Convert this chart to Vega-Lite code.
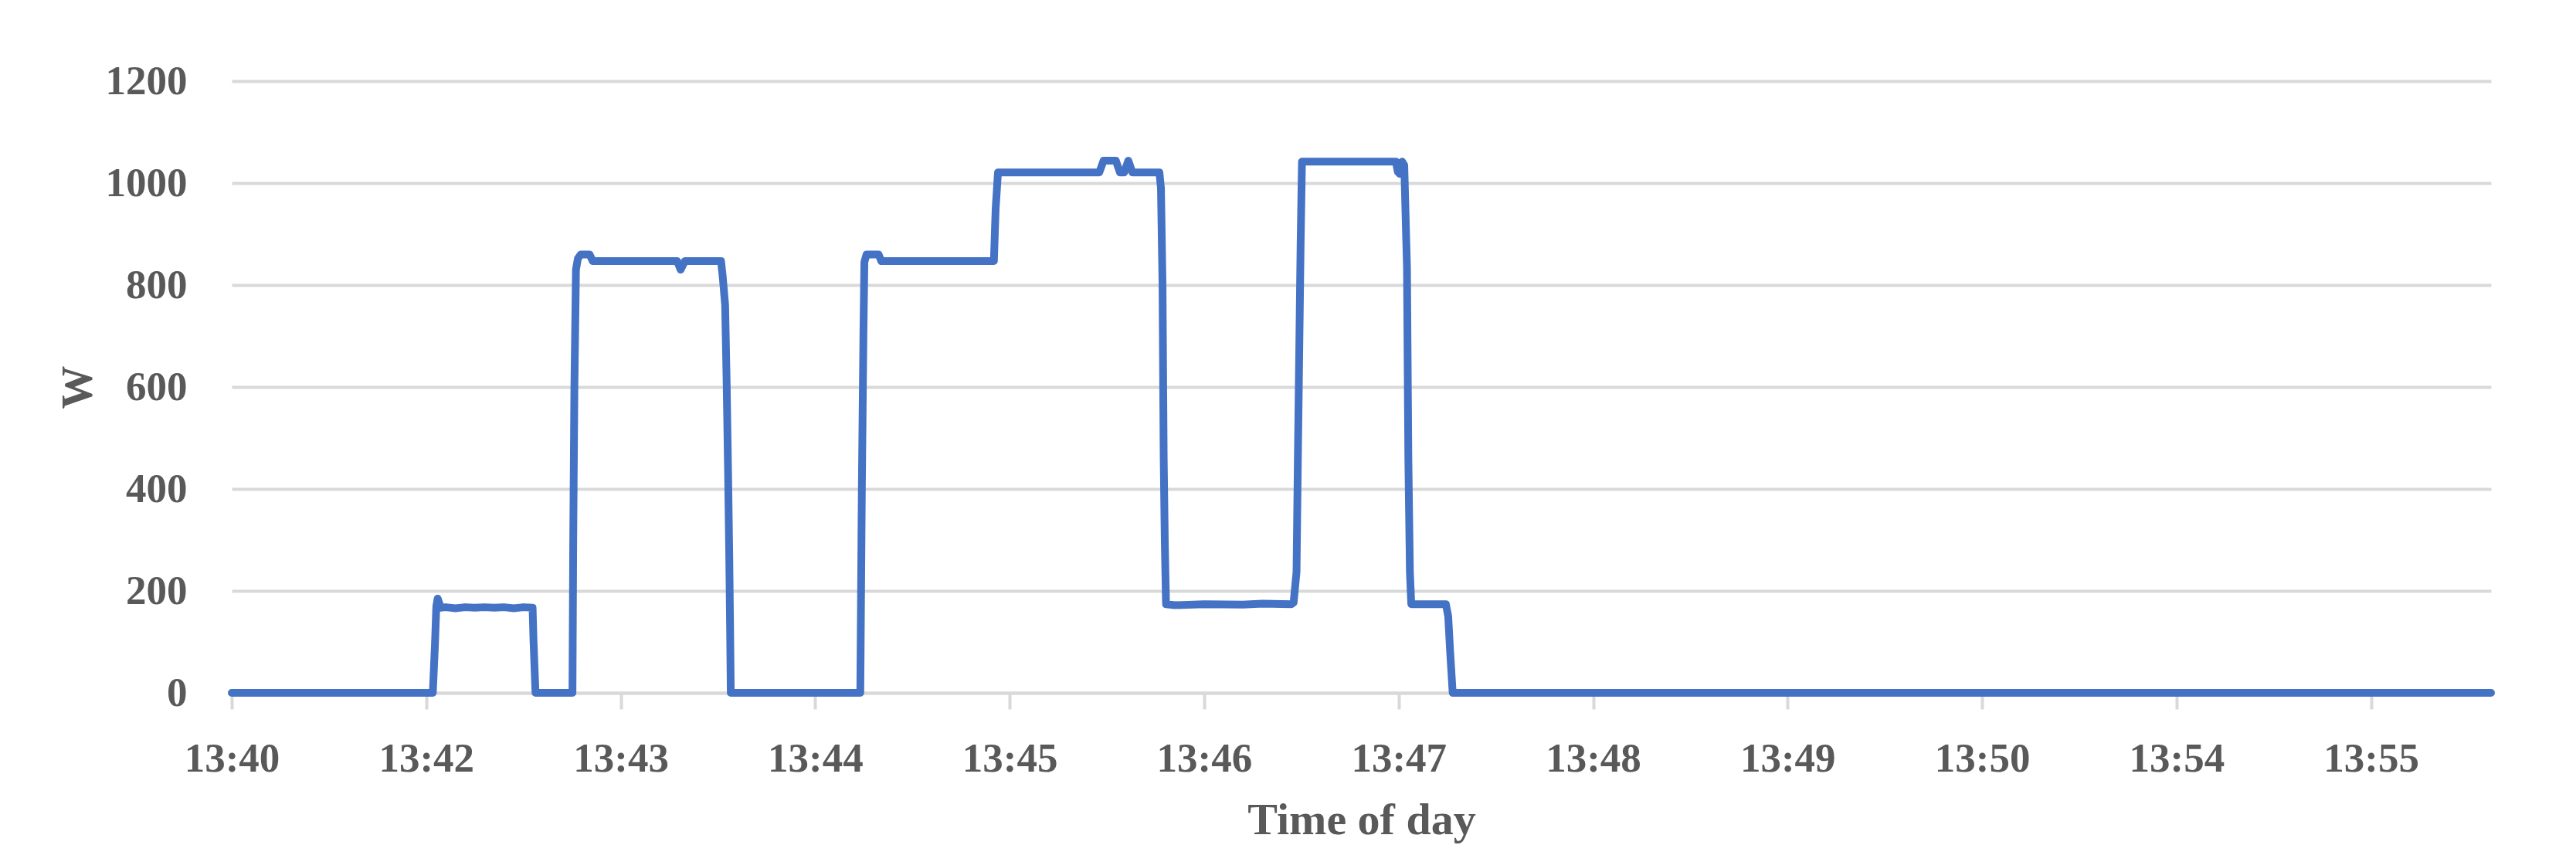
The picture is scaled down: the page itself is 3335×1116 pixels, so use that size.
{
  "$schema": "https://vega.github.io/schema/vega-lite/v6.json",
  "width": 2925,
  "height": 792,
  "autosize": {"type": "none"},
  "padding": {"left": 300, "top": 105, "right": 110, "bottom": 219},
  "background": "white",
  "config": {
    "view": {"stroke": null},
    "font": "Liberation Serif",
    "axis": {
      "labelFont": "Liberation Serif",
      "titleFont": "Liberation Serif",
      "labelFontWeight": "bold",
      "titleFontWeight": "bold",
      "labelColor": "#595959",
      "titleColor": "#595959",
      "gridColor": "#D9D9D9",
      "gridWidth": 4,
      "domainColor": "#D9D9D9",
      "tickColor": "#D9D9D9"
    }
  },
  "data": {
    "values": [
      {"t": 0, "W": 0},
      {"t": 1.034, "W": 0},
      {"t": 1.045, "W": 95},
      {"t": 1.052, "W": 170},
      {"t": 1.059, "W": 185},
      {"t": 1.075, "W": 167},
      {"t": 1.10, "W": 168},
      {"t": 1.15, "W": 166},
      {"t": 1.20, "W": 168},
      {"t": 1.25, "W": 167},
      {"t": 1.30, "W": 168},
      {"t": 1.35, "W": 167},
      {"t": 1.40, "W": 168},
      {"t": 1.45, "W": 166},
      {"t": 1.50, "W": 168},
      {"t": 1.547, "W": 167},
      {"t": 1.552, "W": 100},
      {"t": 1.558, "W": 40},
      {"t": 1.562, "W": 0},
      {"t": 1.752, "W": 0},
      {"t": 1.756, "W": 300},
      {"t": 1.762, "W": 600},
      {"t": 1.770, "W": 830},
      {"t": 1.780, "W": 852},
      {"t": 1.795, "W": 860},
      {"t": 1.840, "W": 860},
      {"t": 1.856, "W": 847},
      {"t": 2.290, "W": 847},
      {"t": 2.308, "W": 830},
      {"t": 2.330, "W": 847},
      {"t": 2.516, "W": 847},
      {"t": 2.525, "W": 815},
      {"t": 2.537, "W": 761},
      {"t": 2.545, "W": 605},
      {"t": 2.552, "W": 437},
      {"t": 2.558, "W": 276},
      {"t": 2.563, "W": 114},
      {"t": 2.566, "W": 0},
      {"t": 3.232, "W": 0},
      {"t": 3.240, "W": 400},
      {"t": 3.248, "W": 700},
      {"t": 3.253, "W": 845},
      {"t": 3.264, "W": 860},
      {"t": 3.326, "W": 860},
      {"t": 3.340, "W": 847},
      {"t": 3.919, "W": 847},
      {"t": 3.928, "W": 950},
      {"t": 3.940, "W": 1021},
      {"t": 4.461, "W": 1021},
      {"t": 4.483, "W": 1044},
      {"t": 4.546, "W": 1044},
      {"t": 4.567, "W": 1021},
      {"t": 4.589, "W": 1021},
      {"t": 4.610, "W": 1044},
      {"t": 4.631, "W": 1021},
      {"t": 4.770, "W": 1021},
      {"t": 4.778, "W": 990},
      {"t": 4.786, "W": 800},
      {"t": 4.792, "W": 460},
      {"t": 4.798, "W": 290},
      {"t": 4.804, "W": 174},
      {"t": 4.85, "W": 172},
      {"t": 5.00, "W": 174},
      {"t": 5.20, "W": 173},
      {"t": 5.30, "W": 175},
      {"t": 5.45, "W": 174},
      {"t": 5.460, "W": 177},
      {"t": 5.475, "W": 237},
      {"t": 5.482, "W": 460},
      {"t": 5.489, "W": 670},
      {"t": 5.496, "W": 879},
      {"t": 5.503, "W": 1042},
      {"t": 5.986, "W": 1042},
      {"t": 5.996, "W": 1022},
      {"t": 6.006, "W": 1018},
      {"t": 6.018, "W": 1042},
      {"t": 6.029, "W": 1035},
      {"t": 6.043, "W": 833},
      {"t": 6.050, "W": 460},
      {"t": 6.058, "W": 237},
      {"t": 6.065, "W": 174},
      {"t": 6.243, "W": 174},
      {"t": 6.255, "W": 150},
      {"t": 6.265, "W": 80},
      {"t": 6.278, "W": 0},
      {"t": 11.617, "W": 0}
    ]
  },
  "mark": {"type": "line", "color": "#4472C4", "strokeWidth": 10, "strokeJoin": "round", "strokeCap": "round", "clip": false},
  "encoding": {
    "x": {
      "field": "t",
      "type": "quantitative",
      "scale": {"domain": [0, 11.617], "nice": false, "zero": false},
      "axis": {
        "title": "Time of day",
        "titleFontSize": 58,
        "titlePadding": 24,
        "labelFontSize": 53,
        "labelPadding": 38,
        "tickSize": 21,
        "tickWidth": 4,
        "domainWidth": 4,
        "grid": false,
        "values": [0, 1, 2, 3, 4, 5, 6, 7, 8, 9, 10, 11],
        "labelExpr": "['13:40','13:42','13:43','13:44','13:45','13:46','13:47','13:48','13:49','13:50','13:54','13:55'][datum.value]",
        "labelFlush": false,
        "labelOverlap": false
      }
    },
    "y": {
      "field": "W",
      "type": "quantitative",
      "scale": {"domain": [0, 1200], "nice": false},
      "axis": {
        "title": "W",
        "titleFontSize": 56,
        "titlePadding": 6,
        "format": "d",
        "labelFontSize": 53,
        "labelPadding": 58,
        "ticks": false,
        "tickSize": 0,
        "domain": false,
        "values": [0, 200, 400, 600, 800, 1000, 1200],
        "labelFlush": false,
        "labelOverlap": false
      }
    }
  }
}
